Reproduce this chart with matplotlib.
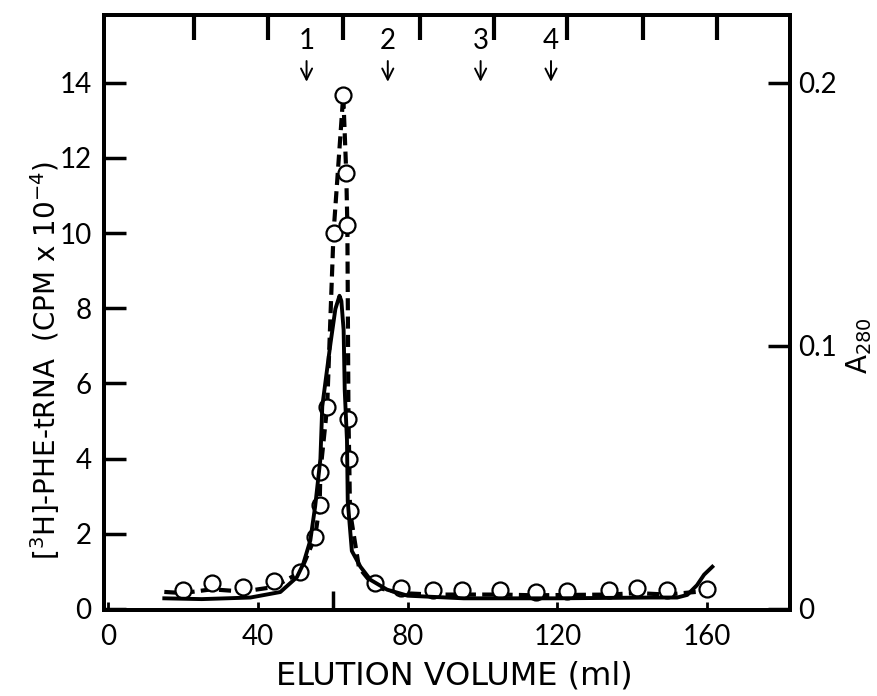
import matplotlib
matplotlib.use("Agg")
import matplotlib.pyplot as plt

plt.rcParams['font.family'] = ['Lato', 'DejaVu Sans']

# [3H]-Phe-tRNA fractions (open circles), CPM x 10^-4
frac_vol = [20.0, 27.7, 36.0, 44.2, 51.3, 55.3, 56.5, 56.7, 58.5, 60.2, 62.8,
            63.6, 63.9, 64.2, 64.4, 64.6, 71.2, 78.1, 86.8, 94.6, 104.8,
            114.2, 122.7, 133.8, 141.2, 149.2, 160.1]
frac_cpm = [0.51, 0.70, 0.59, 0.75, 0.97, 1.92, 2.77, 3.65, 5.38, 9.99, 13.67,
            11.6, 10.2, 5.05, 4.0, 2.6, 0.70, 0.55, 0.49, 0.49, 0.49,
            0.46, 0.48, 0.49, 0.55, 0.49, 0.53]

# dashed curve drawn through the fractions
dash_vol = [15.0, 20.0, 27.7, 36.0, 44.2, 51.3, 55.3, 56.5, 56.7, 58.5, 60.2,
            62.8, 63.6, 63.9, 64.2, 64.4, 64.6, 67.0, 71.2, 78.1, 86.8, 94.6,
            104.8, 114.2, 122.7, 133.8, 141.2, 149.2, 157.0]
dash_cpm = [0.45, 0.42, 0.52, 0.46, 0.58, 0.97, 1.92, 2.77, 3.65, 5.38, 9.99,
            13.67, 11.6, 10.2, 5.05, 4.0, 2.6, 1.1, 0.58, 0.42, 0.38, 0.38,
            0.38, 0.36, 0.37, 0.38, 0.42, 0.38, 0.45]

# A280 trace (solid)
a280_vol = [15.0, 25.0, 38.0, 46.0, 50.4, 52.1, 54.0, 55.3, 56.7, 57.2, 59.4,
            60.7, 61.8, 62.3, 62.9, 63.2, 63.8, 64.0, 65.1, 67.4, 70.1, 74.5,
            80.0, 95.0, 120.0, 145.0, 152.0, 154.7, 157.3, 159.2, 161.4]
a280_val = [0.004, 0.0037, 0.0043, 0.0064, 0.012, 0.017, 0.026, 0.039, 0.057,
            0.077, 0.101, 0.114, 0.119, 0.117, 0.106, 0.083, 0.064, 0.041,
            0.022, 0.016, 0.011, 0.0073, 0.005, 0.004, 0.004, 0.0043, 0.0043,
            0.0053, 0.009, 0.013, 0.016]

# fraction markers at the top
top_ticks = [22.9, 42.8, 62.8, 83.2, 103.2, 122.7, 142.8, 162.6]
arrow_labels = ['1', '2', '3', '4']
arrow_vol = [53.0, 74.7, 99.5, 118.3]

x_ticks = [0, 40, 80, 120, 160]
y_ticks = [0, 2, 4, 6, 8, 10, 12, 14]
y2_ticks = [0, 0.1, 0.2]
y2_labels = ['0', '0.1', '0.2']

fig = plt.figure(figsize=(8.78, 6.96), dpi=100)
ax = fig.add_axes([0.1185, 0.1236, 0.7815, 0.8548])

ymax = 15.8
ax.set_xlim(-1.1, 182.2)
ax.set_ylim(-0.03, ymax)

ax.plot(dash_vol, dash_cpm, color='black', lw=3.0, linestyle=(0, (2.9, 1.5)),
        zorder=3)
ax.plot(frac_vol, frac_cpm, linestyle='none', marker='o', markersize=11.5,
        markerfacecolor='white', markeredgecolor='black', markeredgewidth=1.6,
        zorder=5)

ax2 = ax.twinx()
ax2.set_ylim(-0.03 * 0.2 / 14, ymax * 0.2 / 14)
ax2.plot(a280_vol, a280_val, color='black', lw=2.8, zorder=4)

for sp in ['left', 'right', 'top', 'bottom']:
    ax.spines[sp].set_linewidth(2.8)
    ax2.spines[sp].set_linewidth(2.8)

ax.set_xticks(x_ticks)
ax.set_xticks([60], minor=True)
ax.set_yticks(y_ticks)
ax.tick_params(axis='x', which='major', direction='in', length=6, width=2,
               labelsize=20, pad=10)
ax.tick_params(axis='x', which='minor', direction='in', length=14, width=2.5)
ax.tick_params(axis='y', direction='in', length=16, width=2.5, labelsize=20,
               pad=9)

ax2.set_yticks(y2_ticks)
ax2.set_yticklabels(y2_labels)
ax2.tick_params(axis='y', direction='in', length=16, width=2.5, labelsize=20,
                pad=6)

top = ax.secondary_xaxis('top')
top.set_xticks(top_ticks)
top.tick_params(direction='in', length=18, width=3, labeltop=False)
top.spines['top'].set_linewidth(2.8)

for lab, v in zip(arrow_labels, arrow_vol):
    ax.text(v, 15.1, lab, ha='center', va='center', fontsize=20)
    ax.annotate('', xy=(v, 13.95), xytext=(v, 14.65),
                arrowprops=dict(arrowstyle='->', lw=1.4, color='black',
                                mutation_scale=20))

ax.set_xlabel('ELUTION VOLUME (ml)', fontsize=23, family='DejaVu Sans')
ax.xaxis.set_label_coords(0.51, -0.085)
ax.set_ylabel(r'[$^3$H]-PHE-tRNA  (CPM x 10$^{-4}$)', fontsize=20,
              family='DejaVu Sans')
ax.yaxis.set_label_coords(-0.062, 0.42)
ax2.set_ylabel(r'A$_{280}$', fontsize=20, rotation=90, family='DejaVu Sans')
ax2.yaxis.set_label_coords(1.078, 0.445)

fig.savefig('out.png', dpi=100)
